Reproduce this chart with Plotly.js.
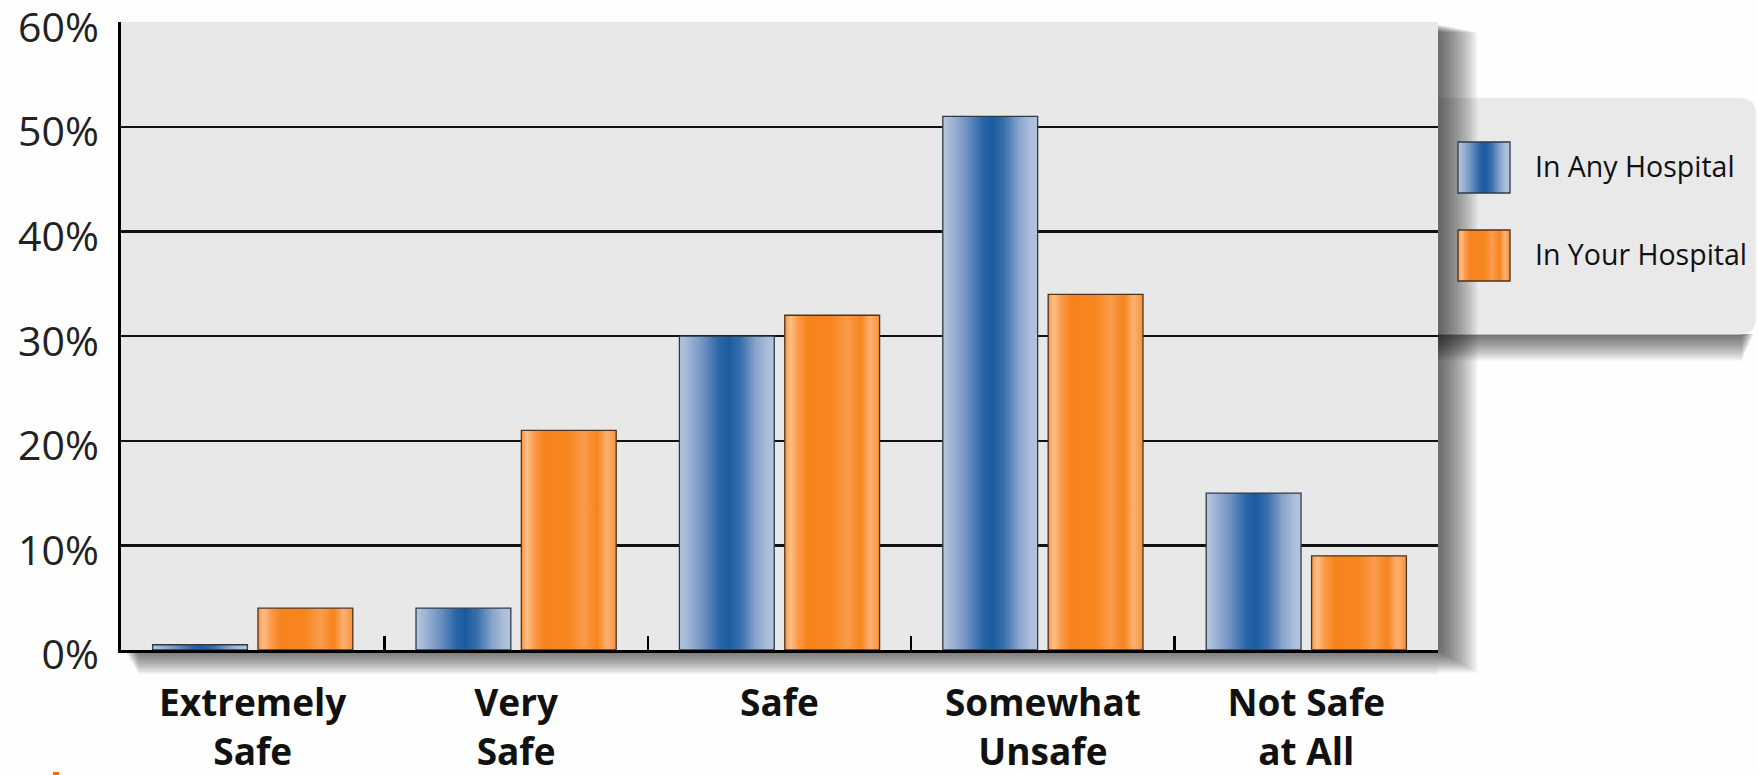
<!DOCTYPE html>
<html>
<head>
<meta charset="utf-8">
<script src="https://cdn.plot.ly/plotly-3.0.1.min.js"></script>
<style>
  html, body { margin: 0; padding: 0; background: #fefefe; }
  #chart { width: 1758px; height: 775px; }
</style>
</head>
<body>
<div id="chart"></div>
<script>
// ---- Data ----
const categories = ["Extremely<br>Safe", "Very<br>Safe", "Safe", "Somewhat<br>Unsafe", "Not Safe<br>at All"];
const seriesNames = ["In Any Hospital", "In Your Hospital"];
const anyHospital = [0.5, 4, 30, 51, 15];
const yourHospital = [4, 21, 32, 34, 9];
const yTickVals = [0, 10, 20, 30, 40, 50, 60];
const yTickText = ["0%", "10%", "20%", "30%", "40%", "50%", "60%"];

// ---- Styles ----
const BLUE = "#1f5fa3";    // replaced by gradient after render
const ORANGE = "#f7841f";  // replaced by gradient after render
const FONT = "Open Sans";

// pixel -> paper helpers (plot area geometry)
const L = 121, R = 1438, T = 22, B = 650;
const px = x => (x - L) / (R - L);
const py = y => (B - y) / (B - T);

const data = [
  { type: "bar", name: seriesNames[0], x: categories, y: anyHospital,
    marker: { color: BLUE, line: { color: "#2e3a4a", width: 1.3 } }, showlegend: false },
  { type: "bar", name: seriesNames[1], x: categories, y: yourHospital,
    marker: { color: ORANGE, line: { color: "#4a3320", width: 1.3 } }, showlegend: false }
];

const shapes = [];
// legend box shadow (below box)
for (let i = 1; i <= 12; i++) {
  shapes.push({ type: "rect", xref: "paper", yref: "paper", layer: "below",
    x0: px(1438), x1: px(1754 - i), y0: py(334), y1: py(334 + i * 2.2),
    fillcolor: "black", opacity: 0.06, line: { width: 0 } });
}
// legend box with rounded right corners
(function () {
  const x0 = 1438, x1 = 1756, y0 = 98, y1 = 334, r = 16;
  const p = `M ${px(x0)} ${py(y0)} L ${px(x1 - r)} ${py(y0)} Q ${px(x1)} ${py(y0)} ${px(x1)} ${py(y0 + r)} ` +
            `L ${px(x1)} ${py(y1 - r)} Q ${px(x1)} ${py(y1)} ${px(x1 - r)} ${py(y1)} L ${px(x0)} ${py(y1)} Z`;
  shapes.push({ type: "path", xref: "paper", yref: "paper", layer: "below", path: p,
    fillcolor: "#e9e9e9", line: { color: "#f4f4f4", width: 1 } });
})();
// plot right shadow
for (let i = 1; i <= 14; i++) {
  shapes.push({ type: "rect", xref: "paper", yref: "paper", layer: "below",
    x0: px(1438), x1: px(1438 + i * 2.8), y0: py(24 + i * 0.6), y1: py(650 + i * 1.6),
    fillcolor: "black", opacity: 0.055, line: { width: 0 } });
}
// plot bottom shadow
for (let i = 1; i <= 12; i++) {
  shapes.push({ type: "rect", xref: "paper", yref: "paper", layer: "below",
    x0: px(124 + i * 1.2), x1: px(1438), y0: py(650), y1: py(650 + i * 2),
    fillcolor: "black", opacity: 0.06, line: { width: 0 } });
}
// legend swatches
shapes.push({ type: "rect", xref: "paper", yref: "paper", layer: "above",
  x0: px(1458), x1: px(1510), y0: py(142), y1: py(193),
  fillcolor: BLUE, line: { color: "#2e3a4a", width: 1.3 } });
shapes.push({ type: "rect", xref: "paper", yref: "paper", layer: "above",
  x0: px(1458), x1: px(1510), y0: py(230), y1: py(281),
  fillcolor: ORANGE, line: { color: "#4a3320", width: 1.3 } });
// small orange mark bottom-left
shapes.push({ type: "rect", xref: "paper", yref: "paper", layer: "above",
  x0: px(53), x1: px(59), y0: py(772), y1: py(776),
  fillcolor: "#ff6600", line: { width: 0 } });

const annotations = [
  { xref: "paper", yref: "paper", x: px(1533), y: py(166), xanchor: "left", yanchor: "middle",
    text: seriesNames[0], showarrow: false, font: { family: FONT, size: 28.5, color: "#111" } },
  { xref: "paper", yref: "paper", x: px(1533), y: py(254), xanchor: "left", yanchor: "middle",
    text: seriesNames[1], showarrow: false, font: { family: FONT, size: 28.5, color: "#111" } }
];

const layout = {
  width: 1758, height: 775,
  margin: { l: L, r: 1758 - R, t: T, b: 775 - B, autoexpand: false },
  paper_bgcolor: "#fefefe",
  plot_bgcolor: "#e8e8e8",
  barmode: "group",
  bargap: 0.2,
  bargroupgap: 0.1,
  showlegend: false,
  font: { family: FONT },
  xaxis: {
    type: "category",
    showline: true, linecolor: "#000", linewidth: 3,
    ticks: "inside", tickson: "boundaries", ticklen: 14, tickwidth: 2.5, tickcolor: "#000",
    tickfont: { family: FONT, size: 37, color: "#111", weight: 700 },
    ticklabelstandoff: 19,
    showgrid: false, zeroline: false, fixedrange: true
  },
  yaxis: {
    range: [0, 60.03],
    tickvals: yTickVals, ticktext: yTickText,
    showline: true, linecolor: "#000", linewidth: 3,
    showgrid: true, gridcolor: "#111", gridwidth: 2.5,
    zeroline: false, ticks: "",
    tickfont: { family: FONT, size: 41, color: "#222" },
    ticklabelstandoff: 11,
    ticklabelshift: 5,
    ticklabeloverflow: "allow",
    fixedrange: true
  },
  shapes: shapes,
  annotations: annotations
};

function addGradient(defs, id, stops) {
  const ns = "http://www.w3.org/2000/svg";
  const g = document.createElementNS(ns, "linearGradient");
  g.setAttribute("id", id);
  g.setAttribute("x1", "0"); g.setAttribute("y1", "0");
  g.setAttribute("x2", "1"); g.setAttribute("y2", "0");
  stops.forEach(s => {
    const st = document.createElementNS(ns, "stop");
    st.setAttribute("offset", s[0]);
    st.setAttribute("stop-color", s[1]);
    g.appendChild(st);
  });
  defs.appendChild(g);
}

Plotly.newPlot("chart", data, layout, { staticPlot: true, displayModeBar: false }).then(gd => {
  const svg = gd.querySelector("svg.main-svg");
  let defs = svg.querySelector("defs");
  if (!defs) { defs = document.createElementNS("http://www.w3.org/2000/svg", "defs"); svg.insertBefore(defs, svg.firstChild); }
  addGradient(defs, "gBlue", [
    [0, "#b7c7de"], [0.08, "#a3b8d7"], [0.25, "#6f92c2"], [0.42, "#2a66a8"],
    [0.52, "#1a5b9f"], [0.65, "#3a70ad"], [0.8, "#86a3cb"], [0.92, "#aabdd9"], [1, "#b3c4dd"]
  ]);
  addGradient(defs, "gOrange", [
    [0, "#f99440"], [0.06, "#fdbf88"], [0.14, "#fb9a48"], [0.24, "#f7831d"],
    [0.5, "#f7861f"], [0.66, "#fa9c4c"], [0.8, "#f7841c"], [0.9, "#fbb072"], [1, "#f8923a"]
  ]);
  gd.querySelectorAll("path").forEach(p => {
    const f = p.style.fill;
    if (f === "rgb(31, 95, 163)") p.style.fill = "url(#gBlue)";
    else if (f === "rgb(247, 132, 31)") p.style.fill = "url(#gOrange)";
  });
});
</script>
</body>
</html>
